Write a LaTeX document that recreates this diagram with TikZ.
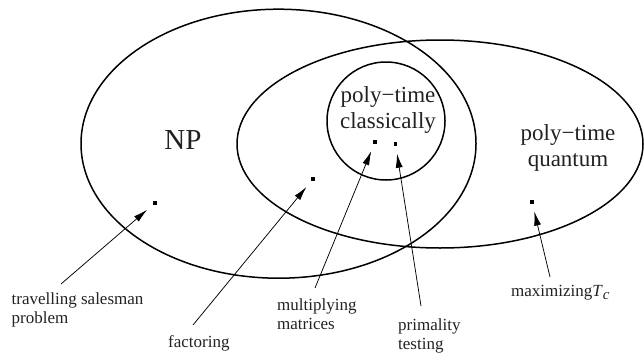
\documentclass[tikz,border=0pt]{standalone}
\usepackage{fontspec}
\setmainfont{Liberation Serif}
\usetikzlibrary{arrows.meta}
\definecolor{inkgray}{HTML}{222222}
\tikzset{
  setline/.style={line width=1.5pt, draw=black},
  dotmark/.style={fill=black, inner sep=0pt, minimum size=3.2pt, rectangle},
  pointer/.style={line width=0.75pt, -{Latex[length=14pt,width=7pt]}, shorten >=8pt},
  smalllabel/.style={font=\fontsize{17}{19}\selectfont, align=left, inner sep=0pt, text=inkgray},
  biglabel/.style={font=\fontsize{23}{26}\selectfont, align=center, inner sep=0pt, text=inkgray},
}
\begin{document}
\begin{tikzpicture}[x=1pt,y=-1pt]
\useasboundingbox (0,0) rectangle (644,356);
% sets
\draw[setline] (278.5,143.7) ellipse [x radius=197.5, y radius=134.5];
\draw[setline] (440,144) ellipse [x radius=203, y radius=104];
\draw[setline] (386,121) circle [radius=59];
% set labels
\node[biglabel, font=\fontsize{29}{30}\selectfont] (np) at (183,140) {NP};
\node[biglabel] (pc) at (388,110) {poly−time\\classically};
\node[biglabel] (pq) at (568,148) {poly−time\\quantum};
% problem points
\node[dotmark] (tsp) at (155,203) {};
\node[dotmark] (fac) at (313,179) {};
\node[dotmark] (mul) at (375,142) {};
\node[dotmark] (pri) at (395.5,144) {};
\node[dotmark] (max) at (532,202) {};
% labels
\node[smalllabel, anchor=west] (ltsp) at (11.5,309.5) {travelling salesman\\problem};
\node[smalllabel, anchor=west] (lfac) at (168,343) {factoring};
\node[smalllabel, anchor=west] (lmul) at (277,314) {multiplying\\matrices};
\node[smalllabel, anchor=west] (lpri) at (398,335.5) {primality\\testing};
\node[smalllabel, anchor=west] (lmax) at (511,293) {maximizing\textit{T}\raisebox{-0.4ex}{\fontsize{15}{15}\selectfont\textit{c}}};
% arrow tails
\coordinate (ttsp) at (61,284);
\coordinate (tfac) at (193,325);
\coordinate (tmul) at (315,288);
\coordinate (tpri) at (421,306);
\coordinate (tmax) at (550,277);
% arrows
\draw[pointer] (ttsp) -- (tsp);
\draw[pointer] (tfac) -- (fac);
\draw[pointer] (tmul) -- (mul);
\draw[pointer] (tpri) -- (pri);
\draw[pointer] (tmax) -- (max);
\end{tikzpicture}
\end{document}
